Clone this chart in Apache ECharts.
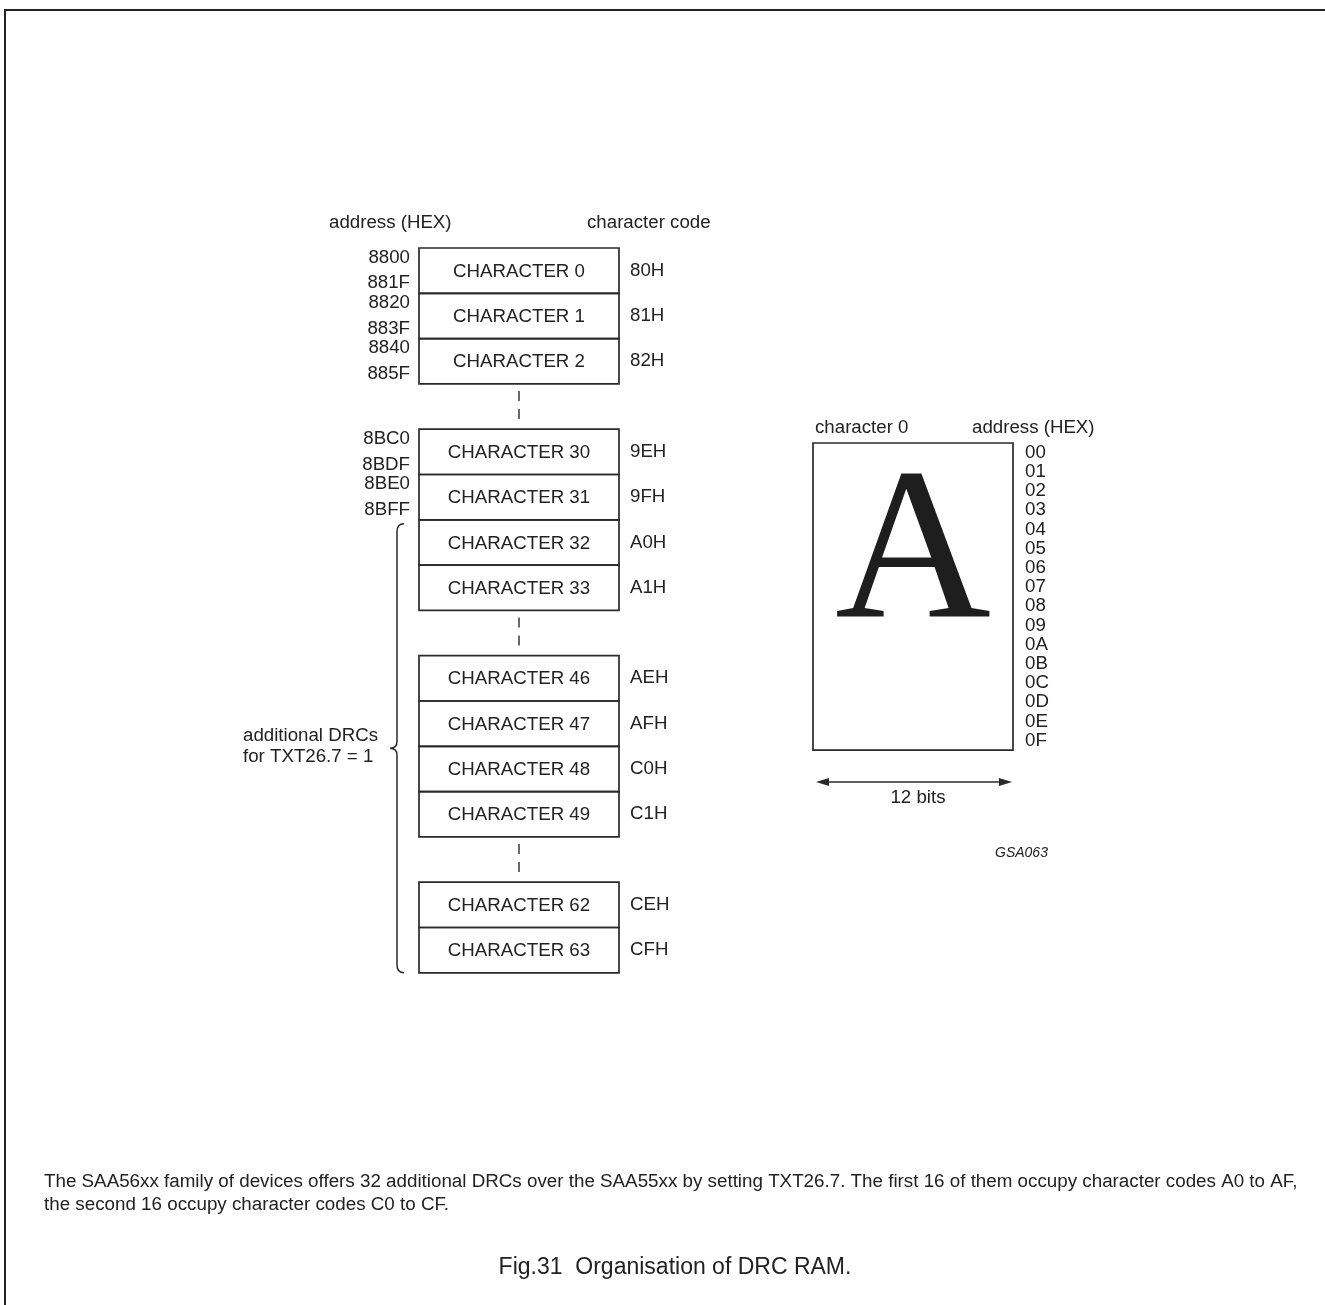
<!DOCTYPE html>
<html>
<head>
<meta charset="utf-8">
<title>Organisation of DRC RAM</title>
<script src="https://cdn.jsdelivr.net/npm/echarts@6/dist/echarts.min.js"></script>
<style>
  html, body { margin: 0; padding: 0; background: #fff; }
  #main { width: 1325px; height: 1305px; }
</style>
</head>
<body>
<div id="main"></div>
<script>
// --- DRC RAM table (left) ---
var charNums  = [0, 1, 2, 30, 31, 32, 33, 46, 47, 48, 49, 62, 63];
var charSlots = [0, 1, 2, 4, 5, 6, 7, 9, 10, 11, 12, 14, 15];
var charCodes = ['80H', '81H', '82H', '9EH', '9FH', 'A0H', 'A1H', 'AEH', 'AFH', 'C0H', 'C1H', 'CEH', 'CFH'];
var addrFirst = ['8800', '8820', '8840', '8BC0', '8BE0'];
var addrLast  = ['881F', '883F', '885F', '8BDF', '8BFF'];
var gapSlots  = [3, 8, 13];
var braceSlots = [6, 15];

// --- character 0 matrix (right) ---
var glyphRows = ['00', '01', '02', '03', '04', '05', '06', '07', '08', '09', '0A', '0B', '0C', '0D', '0E', '0F'];
var glyphBits = 12;

// layout (canvas units of the hidden axes)
var L = {
  boxX0: 419, boxX1: 619, top: 248, rowH: 45.3,
  addrX: 410, codeX: 630,
  gx0: 813, gx1: 1013, gtop: 443, growH: 19.2,
  arrowY: 782
};
var FONT = '"Liberation Sans", Arial, sans-serif';
var FS = 18.7;
var INK = '#222';
var LINE = '#2a2a2a';

function txt(x, y, s, size, align, extra) {
  var st = { text: s, x: x, y: y, font: size + 'px ' + FONT, fill: INK, align: align || 'left', verticalAlign: 'middle' };
  if (extra) for (var k in extra) st[k] = extra[k];
  return { type: 'text', style: st, silent: true };
}

var chart = echarts.init(document.getElementById('main'), null, { renderer: 'canvas' });

var option = {
  animation: false,
  grid: { left: 0, right: 0, top: 0, bottom: 0 },
  xAxis: { type: 'value', min: 0, max: 1325, show: false },
  yAxis: { type: 'value', min: 0, max: 1305, inverse: true, show: false },
  graphic: [
    // page frame (top and left edge)
    { type: 'polyline', shape: { points: [[5, 1305], [5, 10], [1325, 10]] }, style: { stroke: INK, lineWidth: 2, fill: null }, silent: true },
    txt(329, 223, 'address (HEX)', FS),
    txt(587, 223, 'character code', FS),
    txt(243, 736, 'additional DRCs', FS),
    txt(243, 757, 'for TXT26.7 = 1', FS),
    txt(815, 428, 'character 0', FS),
    txt(972, 428, 'address (HEX)', FS),
    txt(995, 853, 'GSA063', 14, 'left', { font: 'italic 14px ' + FONT }),
    txt(44, 1182, 'The SAA56xx family of devices offers 32 additional DRCs over the SAA55xx by setting TXT26.7. The first 16 of them occupy character codes A0 to AF,', 18.8),
    txt(44, 1205, 'the second 16 occupy character codes C0 to CF.', 18.8),
    txt(675, 1268, 'Fig.31  Organisation of DRC RAM.', 23, 'center')
  ],
  series: [
    {
      name: 'rows',
      type: 'custom',
      data: charNums.map(function (n, i) { return [charSlots[i], n]; }),
      renderItem: function (params, api) {
        var i = params.dataIndex;
        var y0 = L.top + api.value(0) * L.rowH;
        var y1 = y0 + L.rowH;
        var p0 = api.coord([L.boxX0, y0]);
        var p1 = api.coord([L.boxX1, y1]);
        var mid = (p0[1] + p1[1]) / 2;
        var kids = [
          { type: 'rect', shape: { x: p0[0], y: p0[1], width: p1[0] - p0[0], height: p1[1] - p0[1] },
            style: { fill: null, stroke: LINE, lineWidth: 1.7 } },
          txt((p0[0] + p1[0]) / 2, mid + 1, 'CHARACTER ' + api.value(1), FS, 'center'),
          txt(api.coord([L.codeX, 0])[0], mid, charCodes[i], FS)
        ];
        if (i < addrFirst.length) {
          var ax = api.coord([L.addrX, 0])[0];
          kids.push(txt(ax, api.coord([0, y0 + 9.5])[1], addrFirst[i], FS, 'right'));
          kids.push(txt(ax, api.coord([0, y1 - 10])[1], addrLast[i], FS, 'right'));
        }
        return { type: 'group', children: kids };
      }
    },
    {
      name: 'gaps',
      type: 'custom',
      data: gapSlots.map(function (s) { return [s]; }),
      renderItem: function (params, api) {
        var y0 = L.top + api.value(0) * L.rowH;
        var xm = (L.boxX0 + L.boxX1) / 2;
        var a = api.coord([xm, y0 + 7]);
        var b = api.coord([xm, y0 + 36]);
        return { type: 'line', shape: { x1: a[0], y1: a[1], x2: b[0], y2: b[1] },
                 style: { stroke: LINE, lineWidth: 1.4, lineDash: [10, 8] } };
      }
    },
    {
      name: 'brace',
      type: 'custom',
      data: [braceSlots],
      renderItem: function (params, api) {
        var yt = L.top + api.value(0) * L.rowH + 4;
        var yb = L.top + (api.value(1) + 1) * L.rowH;
        var ym = (yt + yb) / 2;
        var t = api.coord([404, yt]), b = api.coord([404, yb]);
        var xl = api.coord([397, 0])[0], xt = api.coord([390, 0])[0];
        var m = api.coord([0, ym])[1];
        var path = 'M' + t[0] + ',' + t[1] +
          ' Q' + xl + ',' + t[1] + ' ' + xl + ',' + (t[1] + 8) +
          ' L' + xl + ',' + (m - 7) +
          ' Q' + xl + ',' + m + ' ' + xt + ',' + m +
          ' Q' + xl + ',' + m + ' ' + xl + ',' + (m + 7) +
          ' L' + xl + ',' + (b[1] - 8) +
          ' Q' + xl + ',' + b[1] + ' ' + b[0] + ',' + b[1];
        return { type: 'path', shape: { pathData: path },
                 style: { fill: null, stroke: LINE, lineWidth: 1.5 } };
      }
    },
    {
      name: 'glyph',
      type: 'custom',
      data: [[glyphRows.length]],
      renderItem: function (params, api) {
        var p0 = api.coord([L.gx0, L.gtop]);
        var p1 = api.coord([L.gx1, L.gtop + api.value(0) * L.growH]);
        return { type: 'group', children: [
          { type: 'rect', shape: { x: p0[0], y: p0[1], width: p1[0] - p0[0], height: p1[1] - p0[1] },
            style: { fill: null, stroke: LINE, lineWidth: 1.7 } },
          { type: 'text', style: { text: 'A', x: (p0[0] + p1[0]) / 2, y: api.coord([0, 559])[1],
              font: '216px "Liberation Serif", "Times New Roman", serif', fill: '#1e1e1e',
              align: 'center', verticalAlign: 'middle' } }
        ] };
      }
    },
    {
      name: 'glyphRows',
      type: 'custom',
      data: glyphRows.map(function (r, i) { return [i]; }),
      renderItem: function (params, api) {
        var p = api.coord([L.gx1 + 12, L.gtop + (api.value(0) + 0.5) * L.growH]);
        return txt(p[0], p[1], glyphRows[params.dataIndex], FS);
      }
    },
    {
      name: 'bits',
      type: 'custom',
      data: [[glyphBits]],
      renderItem: function (params, api) {
        var a = api.coord([L.gx0 + 3, L.arrowY]);
        var b = api.coord([L.gx1 - 1, L.arrowY]);
        var h = 13, w = 4;
        return { type: 'group', children: [
          { type: 'line', shape: { x1: a[0] + h, y1: a[1], x2: b[0] - h, y2: b[1] },
            style: { stroke: LINE, lineWidth: 1.5 } },
          { type: 'polygon', shape: { points: [[a[0], a[1]], [a[0] + h, a[1] - w], [a[0] + h, a[1] + w]] },
            style: { fill: LINE } },
          { type: 'polygon', shape: { points: [[b[0], b[1]], [b[0] - h, b[1] - w], [b[0] - h, b[1] + w]] },
            style: { fill: LINE } },
          txt((a[0] + b[0]) / 2 + 4, a[1] + 16, api.value(0) + ' bits', FS, 'center')
        ] };
      }
    }
  ]
};

chart.setOption(option);
</script>
</body>
</html>
